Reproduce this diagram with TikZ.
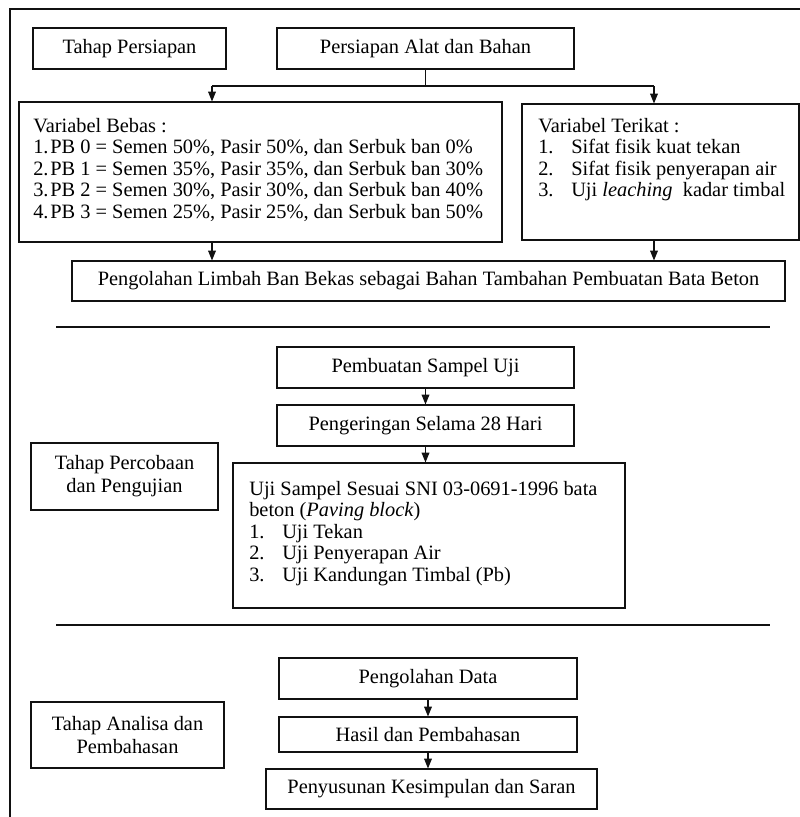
\documentclass[tikz,border=0pt]{standalone}
\usepackage{fontspec}
\setmainfont{Liberation Serif}
\usepackage{tikz}
\usepackage{xcolor}
\usetikzlibrary{arrows.meta,calc,positioning}
\definecolor{Ink}{HTML}{111111}
\newcommand{\butir}[2][0.825cm]{\makebox[#1][l]{#2}}

\begin{document}
\begin{tikzpicture}[
  x=1cm,y=1cm,
  font=\fontsize{14.5pt}{15.3pt}\selectfont,
  tahap/.style={draw=Ink, line width=0.75pt, align=center, inner sep=0pt, minimum width=4.825cm, minimum height=1.025cm, font=\fontsize{14.5pt}{16.4pt}\selectfont},
  proses/.style={draw=Ink, line width=0.75pt, align=center, inner sep=0pt, minimum width=7.425cm, minimum height=1.025cm},
  panel/.style={draw=Ink, line width=0.75pt, inner sep=0pt},
  isi/.style={align=left, inner sep=0pt, anchor=north west},
  garis/.style={line width=1.4pt, draw=Ink},
  arr/.style={-{Triangle[length=7pt,width=5.5pt]}, line width=0.75pt, draw=Ink}
]
  \useasboundingbox (0,0) rectangle (20,-20.425);
  \draw[garis] (20.2,-0.225) -- (0.25,-0.225) -- (0.25,-20.6);

  % tahap persiapan
  \node[tahap] (tahap1) at (3.2375,-1.2125) {Tahap Persiapan};
  \node[proses] (alat) at (10.6375,-1.2125) {Persiapan Alat dan Bahan};
  \node[panel, minimum width=12.075cm, minimum height=3.5cm] (bebas) at (6.5125,-4.3) {};
  \node[isi] (bebasIsi) at (0.825,-2.95) {Variabel Bebas :\\
    \butir[0.425cm]{1.}PB 0 = Semen 50\%, Pasir 50\%, dan Serbuk ban 0\%\\
    \butir[0.425cm]{2.}PB 1 = Semen 35\%, Pasir 35\%, dan Serbuk ban 30\%\\
    \butir[0.425cm]{3.}PB 2 = Semen 30\%, Pasir 30\%, dan Serbuk ban 40\%\\
    \butir[0.425cm]{4.}PB 3 = Semen 25\%, Pasir 25\%, dan Serbuk ban 50\%};
  \node[panel, minimum width=6.925cm, minimum height=3.4cm] (terikat) at (16.5125,-4.3) {};
  \node[isi] (terikatIsi) at (13.45,-2.95) {Variabel Terikat :\\
    \butir{1.}Sifat fisik kuat tekan\\
    \butir{2.}Sifat fisik penyerapan air\\
    \butir{3.}Uji \textit{leaching}~ kadar timbal};
  \node[proses, minimum width=17.825cm, minimum height=1.0cm] (limbah) at (10.7125,-7.025) {Pengolahan Limbah Ban Bekas sebagai Bahan Tambahan Pembuatan Bata Beton};

  \coordinate (ka) at (5.3,-2.15);
  \coordinate (kb) at (16.35,-2.15);
  \draw[line width=0.75pt, draw=Ink] (alat.south) -- (alat.south |- ka);
  \draw[line width=0.75pt, draw=Ink] (ka) -- (kb);
  \draw[arr] (ka) -- (ka |- bebas.north);
  \draw[arr] (kb) -- (kb |- terikat.north);
  \draw[arr] (ka |- bebas.south) -- (ka |- limbah.north);
  \draw[arr] (kb |- terikat.south) -- (kb |- limbah.north);

  \draw[garis] (1.4,-8.175) -- (19.25,-8.175);

  % tahap percobaan
  \node[proses] (pembuatan) at (10.6375,-9.1875) {Pembuatan Sampel Uji};
  \node[proses] (pengeringan) at (10.6375,-10.6375) {Pengeringan Selama 28 Hari};
  \node[tahap, minimum width=4.675cm, minimum height=1.675cm] (tahap2) at (3.1125,-11.9125) {Tahap Percobaan\\dan Pengujian};
  \node[panel, minimum width=9.8cm, minimum height=3.625cm] (uji) at (10.725,-13.3875) {};
  \node[isi] (ujiIsi) at (6.225,-12.025) {Uji Sampel Sesuai SNI 03-0691-1996 bata\\
    beton (\textit{Paving block})\\
    \butir{1.}Uji Tekan\\
    \butir{2.}Uji Penyerapan Air\\
    \butir{3.}Uji Kandungan Timbal (Pb)};

  \draw[arr] (pembuatan.south) -- (pengeringan.north);
  \draw[arr] (pengeringan.south) -- (pengeringan.south |- uji.north);

  \draw[garis] (1.4,-15.625) -- (19.25,-15.625);

  % tahap analisa
  \node[proses, minimum width=7.45cm] (data) at (10.7,-16.9625) {Pengolahan Data};
  \node[proses, minimum width=7.45cm, minimum height=0.875cm] (hasil) at (10.7,-18.3625) {Hasil dan Pembahasan};
  \node[proses, minimum width=8.275cm, minimum height=1.0cm] (simpulan) at (10.7875,-19.725) {Penyusunan Kesimpulan dan Saran};
  \node[tahap, minimum height=1.65cm] (tahap3) at (3.1875,-18.375) {Tahap Analisa dan\\Pembahasan};

  \draw[arr] (data.south) -- (hasil.north);
  \draw[arr] (hasil.south) -- (hasil.south |- simpulan.north);
\end{tikzpicture}
\end{document}
